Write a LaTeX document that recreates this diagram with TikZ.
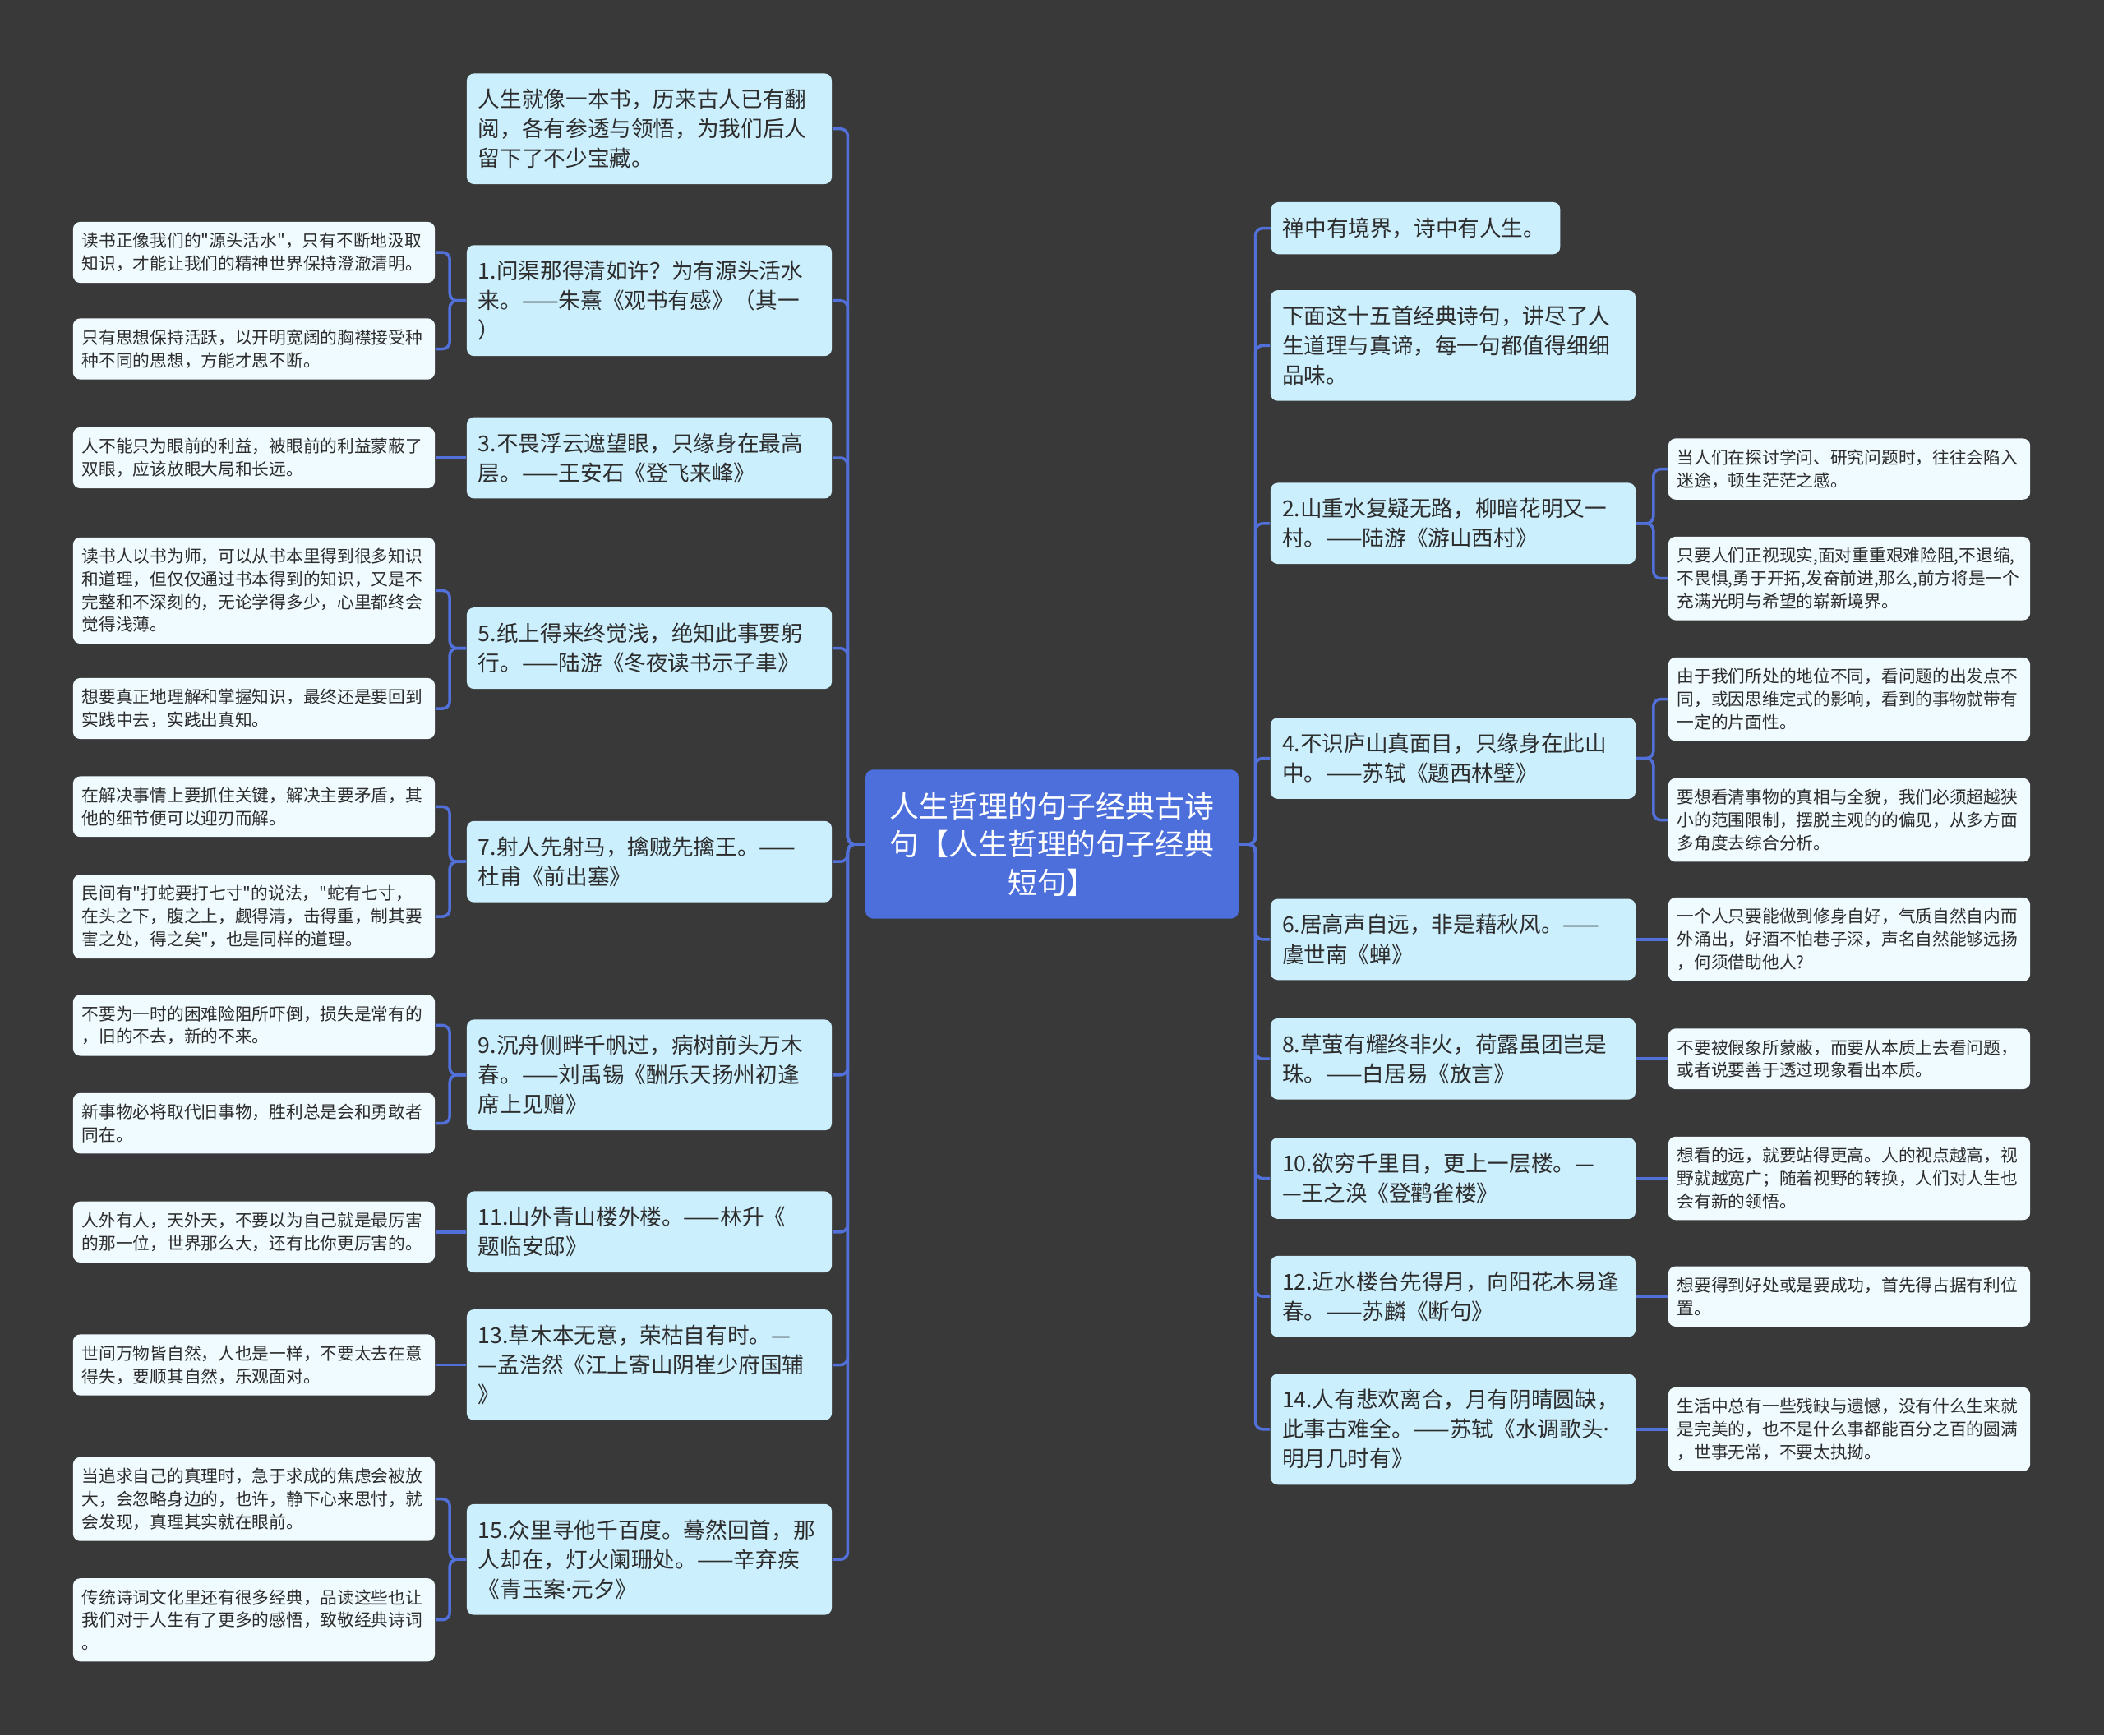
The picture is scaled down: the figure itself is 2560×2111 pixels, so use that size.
\documentclass[tikz,border=0pt]{standalone}
\usepackage{fontspec}
\newfontfamily\cjk{Noto Sans CJK SC}
\newfontfamily\latn{Noto Sans}
\newcommand\middot{{\latn ·}}

\definecolor{bg}{RGB}{57,57,57}
\definecolor{linkblue}{RGB}{82,112,218}
\definecolor{rootblue}{RGB}{76,111,220}
\definecolor{branchfill}{RGB}{204,239,253}
\definecolor{leaffill}{RGB}{240,251,255}
\definecolor{ink}{RGB}{45,45,45}

\begin{document}
\begin{tikzpicture}[
  x=0.01cm, y=-0.01cm,
  root/.style   = {fill=rootblue, rounded corners=2.5pt, text=white, align=center,
                   minimum width=129pt, inner ysep=7.8pt,
                   font=\cjk\fontsize{10.2pt}{13.2pt}\selectfont},
  branch/.style = {fill=branchfill, rounded corners=2.5pt, text=ink, align=left,
                   text width=118.3pt, inner xsep=4pt, inner ysep=5.4pt,
                   font=\cjk\fontsize{7.57pt}{10.24pt}\selectfont},
  leaf/.style   = {fill=leaffill, rounded corners=2.5pt, text=ink, align=left,
                   text width=119pt, inner xsep=3.1pt, inner ysep=3.8pt,
                   font=\cjk\fontsize{5.89pt}{7.9pt}\selectfont},
  link/.style   = {draw=linkblue, line width=1pt, rounded corners=2.5pt},
]

  \fill[bg] (0,0) rectangle (2560,2111);
  \useasboundingbox (0,0) rectangle (2560,2111);

  % ── root ──────────────────────────────────────────────────────────────
  \node[root] (ctr) at (1280,1027) {人生哲理的句子经典古诗\\句【人生哲理的句子经典\\短句】};

  % ── left branches ─────────────────────────────────────────────────────
  \node[branch] (l0)  at (790,156.7)  {人生就像一本书，历来古人已有翻\\阅，各有参透与领悟，为我们后人\\留下了不少宝藏。};
  \node[branch] (l1)  at (790,365.7)  {1.问渠那得清如许？为有源头活水\\来。——朱熹《观书有感》（其一\\）};
  \node[branch] (l3)  at (790,557)    {3.不畏浮云遮望眼，只缘身在最高\\层。——王安石《登飞来峰》};
  \node[branch] (l5)  at (790,788.6)  {5.纸上得来终觉浅，绝知此事要躬\\行。——陆游《冬夜读书示子聿》};
  \node[branch] (l7)  at (790,1048.2) {7.射人先射马，擒贼先擒王。——\\杜甫《前出塞》};
  \node[branch] (l9)  at (790,1307.8) {9.沉舟侧畔千帆过，病树前头万木\\春。——刘禹锡《酬乐天扬州初逢\\席上见赠》};
  \node[branch] (l11) at (790,1498.8) {11.山外青山楼外楼。——林升《\\题临安邸》};
  \node[branch] (l13) at (790,1660.5) {13.草木本无意，荣枯自有时。—\\—孟浩然《江上寄山阴崔少府国辅\\》};
  \node[branch] (l15) at (790,1897.2) {15.众里寻他千百度。蓦然回首，那\\人却在，灯火阑珊处。——辛弃疾\\《青玉案\middot 元夕》};

  % ── left leaves ───────────────────────────────────────────────────────
  \node[leaf] (l1a)  at (309,307)    {读书正像我们的"源头活水"，只有不断地汲取\\知识，才能让我们的精神世界保持澄澈清明。};
  \node[leaf] (l1b)  at (309,424.5)  {只有思想保持活跃，以开明宽阔的胸襟接受种\\种不同的思想，方能才思不断。};
  \node[leaf] (l3a)  at (309,557)    {人不能只为眼前的利益，被眼前的利益蒙蔽了\\双眼，应该放眼大局和长远。};
  \node[leaf] (l5a)  at (309,718.4)  {读书人以书为师，可以从书本里得到很多知识\\和道理，但仅仅通过书本得到的知识，又是不\\完整和不深刻的，无论学得多少，心里都终会\\觉得浅薄。};
  \node[leaf] (l5b)  at (309,862)    {想要真正地理解和掌握知识，最终还是要回到\\实践中去，实践出真知。};
  \node[leaf] (l7a)  at (309,981.3)  {在解决事情上要抓住关键，解决主要矛盾，其\\他的细节便可以迎刃而解。};
  \node[leaf] (l7b)  at (309,1115.1) {民间有"打蛇要打七寸"的说法，"蛇有七寸，\\在头之下，腹之上，觑得清，击得重，制其要\\害之处，得之矣"，也是同样的道理。};
  \node[leaf] (l9a)  at (309,1247.4) {不要为一时的困难险阻所吓倒，损失是常有的\\，旧的不去，新的不来。};
  \node[leaf] (l9b)  at (309,1366.6) {新事物必将取代旧事物，胜利总是会和勇敢者\\同在。};
  \node[leaf] (l11a) at (309,1498.8) {人外有人，天外天，不要以为自己就是最厉害\\的那一位，世界那么大，还有比你更厉害的。};
  \node[leaf] (l13a) at (309,1660.5) {世间万物皆自然，人也是一样，不要太去在意\\得失，要顺其自然，乐观面对。};
  \node[leaf] (l15a) at (309,1823.7) {当追求自己的真理时，急于求成的焦虑会被放\\大，会忽略身边的，也许，静下心来思忖，就\\会发现，真理其实就在眼前。};
  \node[leaf] (l15b) at (309,1970.7) {传统诗词文化里还有很多经典，品读这些也让\\我们对于人生有了更多的感悟，致敬经典诗词\\。};

  % ── right branches ────────────────────────────────────────────────────
  \node[branch, text width=92pt, anchor=west] (r0) at (1546,277.6) {禅中有境界，诗中有人生。};
  \node[branch] (r1)  at (1768,420.4)  {下面这十五首经典诗句，讲尽了人\\生道理与真谛，每一句都值得细细\\品味。};
  \node[branch] (r2)  at (1768,636.8)  {2.山重水复疑无路，柳暗花明又一\\村。——陆游《游山西村》};
  \node[branch] (r4)  at (1768,922.5)  {4.不识庐山真面目，只缘身在此山\\中。——苏轼《题西林壁》};
  \node[branch] (r6)  at (1768,1142.9) {6.居高声自远，非是藉秋风。——\\虞世南《蝉》};
  \node[branch] (r8)  at (1768,1288.2) {8.草萤有耀终非火，荷露虽团岂是\\珠。——白居易《放言》};
  \node[branch] (r10) at (1768,1433.5) {10.欲穷千里目，更上一层楼。—\\—王之涣《登鹳雀楼》};
  \node[branch] (r12) at (1768,1577.2) {12.近水楼台先得月，向阳花木易逢\\春。——苏麟《断句》};
  \node[branch] (r14) at (1768,1738.8) {14.人有悲欢离合，月有阴晴圆缺，\\此事古难全。——苏轼《水调歌头\middot\\明月几时有》};

  % ── right leaves ──────────────────────────────────────────────────────
  \node[leaf] (r2a)  at (2250,570.6)  {当人们在探讨学问、研究问题时，往往会陷入\\迷途，顿生茫茫之感。};
  \node[leaf] (r2b)  at (2250,703.7)  {只要人们正视现实,面对重重艰难险阻,不退缩,\\不畏惧,勇于开拓,发奋前进,那么,前方将是一个\\充满光明与希望的崭新境界。};
  \node[leaf] (r4a)  at (2250,850.6)  {由于我们所处的地位不同，看问题的出发点不\\同，或因思维定式的影响，看到的事物就带有\\一定的片面性。};
  \node[leaf] (r4b)  at (2250,997.6)  {要想看清事物的真相与全貌，我们必须超越狭\\小的范围限制，摆脱主观的的偏见，从多方面\\多角度去综合分析。};
  \node[leaf] (r6a)  at (2250,1142.9) {一个人只要能做到修身自好，气质自然自内而\\外涌出，好酒不怕巷子深，声名自然能够远扬\\，何须借助他人?};
  \node[leaf] (r8a)  at (2250,1288.2) {不要被假象所蒙蔽，而要从本质上去看问题，\\或者说要善于透过现象看出本质。};
  \node[leaf] (r10a) at (2250,1433.5) {想看的远，就要站得更高。人的视点越高，视\\野就越宽广；随着视野的转换，人们对人生也\\会有新的领悟。};
  \node[leaf] (r12a) at (2250,1577.2) {想要得到好处或是要成功，首先得占据有利位\\置。};
  \node[leaf] (r14a) at (2250,1738.8) {生活中总有一些残缺与遗憾，没有什么生来就\\是完美的，也不是什么事都能百分之百的圆满\\，世事无常，不要太执拗。};

  % ── root to branches ──────────────────────────────────────────────────
  \draw[link] (ctr.west) -- ++(-21,0) |- (l0.east);
  \draw[link] (ctr.west) -- ++(-21,0) |- (l1.east);
  \draw[link] (ctr.west) -- ++(-21,0) |- (l3.east);
  \draw[link] (ctr.west) -- ++(-21,0) |- (l5.east);
  \draw[link] (ctr.west) -- ++(-21,0) |- (l7.east);
  \draw[link] (ctr.west) -- ++(-21,0) |- (l9.east);
  \draw[link] (ctr.west) -- ++(-21,0) |- (l11.east);
  \draw[link] (ctr.west) -- ++(-21,0) |- (l13.east);
  \draw[link] (ctr.west) -- ++(-21,0) |- (l15.east);

  \draw[link] (ctr.east) -- ++(20,0) |- (r0.west);
  \draw[link] (ctr.east) -- ++(20,0) |- (r1.west);
  \draw[link] (ctr.east) -- ++(20,0) |- (r2.west);
  \draw[link] (ctr.east) -- ++(20,0) |- (r4.west);
  \draw[link] (ctr.east) -- ++(20,0) |- (r6.west);
  \draw[link] (ctr.east) -- ++(20,0) |- (r8.west);
  \draw[link] (ctr.east) -- ++(20,0) |- (r10.west);
  \draw[link] (ctr.east) -- ++(20,0) |- (r12.west);
  \draw[link] (ctr.east) -- ++(20,0) |- (r14.west);

  % ── branches to leaves, left ──────────────────────────────────────────
  \draw[link] (l1.west) -- ++(-20,0) |- (l1a.east);
  \draw[link] (l1.west) -- ++(-20,0) |- (l1b.east);
  \draw[link] (l3) -- (l3a);
  \draw[link] (l5.west) -- ++(-20,0) |- (l5a.east);
  \draw[link] (l5.west) -- ++(-20,0) |- (l5b.east);
  \draw[link] (l7.west) -- ++(-20,0) |- (l7a.east);
  \draw[link] (l7.west) -- ++(-20,0) |- (l7b.east);
  \draw[link] (l9.west) -- ++(-20,0) |- (l9a.east);
  \draw[link] (l9.west) -- ++(-20,0) |- (l9b.east);
  \draw[link] (l11) -- (l11a);
  \draw[link] (l13) -- (l13a);
  \draw[link] (l15.west) -- ++(-20,0) |- (l15a.east);
  \draw[link] (l15.west) -- ++(-20,0) |- (l15b.east);

  % ── branches to leaves, right ─────────────────────────────────────────
  \draw[link] (r2.east) -- ++(21,0) |- (r2a.west);
  \draw[link] (r2.east) -- ++(21,0) |- (r2b.west);
  \draw[link] (r4.east) -- ++(21,0) |- (r4a.west);
  \draw[link] (r4.east) -- ++(21,0) |- (r4b.west);
  \draw[link] (r6) -- (r6a);
  \draw[link] (r8) -- (r8a);
  \draw[link] (r10) -- (r10a);
  \draw[link] (r12) -- (r12a);
  \draw[link] (r14) -- (r14a);

\end{tikzpicture}
\end{document}
